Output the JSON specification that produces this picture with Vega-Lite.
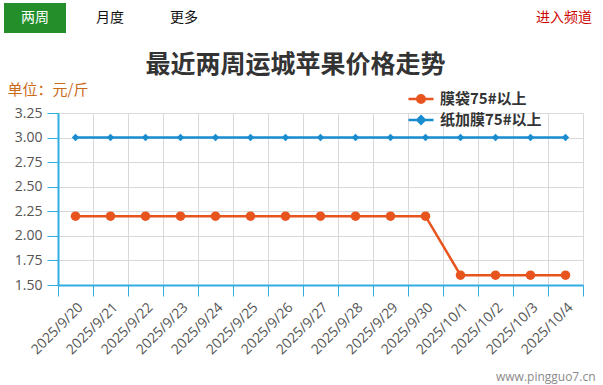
{
  "$schema": "https://vega.github.io/schema/vega-lite/v6.json",
  "autosize": {"type": "none"},
  "width": 525,
  "height": 172,
  "padding": {"left": 58, "top": 113, "right": 20, "bottom": 100},
  "background": "white",
  "title": {
    "text": "最近两周运城苹果价格走势",
    "font": "Noto Sans CJK SC",
    "fontSize": 25,
    "fontWeight": "bold",
    "color": "#333333",
    "anchor": "middle",
    "baseline": "bottom",
    "dx": -25,
    "offset": -100
  },
  "config": {
    "view": {"stroke": null},
    "font": "Open Sans"
  },
  "data": {
    "values": [
      {"date": "2025/9/20", "series": "膜袋75#以上", "price": 2.2},
      {"date": "2025/9/21", "series": "膜袋75#以上", "price": 2.2},
      {"date": "2025/9/22", "series": "膜袋75#以上", "price": 2.2},
      {"date": "2025/9/23", "series": "膜袋75#以上", "price": 2.2},
      {"date": "2025/9/24", "series": "膜袋75#以上", "price": 2.2},
      {"date": "2025/9/25", "series": "膜袋75#以上", "price": 2.2},
      {"date": "2025/9/26", "series": "膜袋75#以上", "price": 2.2},
      {"date": "2025/9/27", "series": "膜袋75#以上", "price": 2.2},
      {"date": "2025/9/28", "series": "膜袋75#以上", "price": 2.2},
      {"date": "2025/9/29", "series": "膜袋75#以上", "price": 2.2},
      {"date": "2025/9/30", "series": "膜袋75#以上", "price": 2.2},
      {"date": "2025/10/1", "series": "膜袋75#以上", "price": 1.6},
      {"date": "2025/10/2", "series": "膜袋75#以上", "price": 1.6},
      {"date": "2025/10/3", "series": "膜袋75#以上", "price": 1.6},
      {"date": "2025/10/4", "series": "膜袋75#以上", "price": 1.6},
      {"date": "2025/9/20", "series": "纸加膜75#以上", "price": 3.0},
      {"date": "2025/9/21", "series": "纸加膜75#以上", "price": 3.0},
      {"date": "2025/9/22", "series": "纸加膜75#以上", "price": 3.0},
      {"date": "2025/9/23", "series": "纸加膜75#以上", "price": 3.0},
      {"date": "2025/9/24", "series": "纸加膜75#以上", "price": 3.0},
      {"date": "2025/9/25", "series": "纸加膜75#以上", "price": 3.0},
      {"date": "2025/9/26", "series": "纸加膜75#以上", "price": 3.0},
      {"date": "2025/9/27", "series": "纸加膜75#以上", "price": 3.0},
      {"date": "2025/9/28", "series": "纸加膜75#以上", "price": 3.0},
      {"date": "2025/9/29", "series": "纸加膜75#以上", "price": 3.0},
      {"date": "2025/9/30", "series": "纸加膜75#以上", "price": 3.0},
      {"date": "2025/10/1", "series": "纸加膜75#以上", "price": 3.0},
      {"date": "2025/10/2", "series": "纸加膜75#以上", "price": 3.0},
      {"date": "2025/10/3", "series": "纸加膜75#以上", "price": 3.0},
      {"date": "2025/10/4", "series": "纸加膜75#以上", "price": 3.0}
    ]
  },
  "encoding": {
    "x": {
      "field": "date", "type": "nominal", "sort": null,
      "scale": {"paddingInner": 0, "paddingOuter": 0},
      "axis": {
        "title": "www.pingguo7.cn",
        "titleFont": "Open Sans", "titleFontSize": 12, "titleFontWeight": "normal", "titleColor": "#8a8a8a",
        "titleAnchor": null, "titleAlign": "right", "titleBaseline": "middle", "titleX": 537, "titleY": 91, "titleAngle": 0,
        "labelAngle": -45, "labelFontSize": 14, "labelColor": "#555555", "labelPadding": 4, "labelOverlap": false,
        "tickBand": "extent", "tickSize": 11, "tickColor": "#2eaee3", "domainColor": "#2eaee3", "domainWidth": 2,
        "grid": true, "gridColor": "#d9d9d9", "gridWidth": 1
      }
    },
    "y": {
      "field": "price", "type": "quantitative",
      "scale": {"domain": [1.5, 3.25], "nice": false, "zero": false},
      "axis": {
        "values": [1.5, 1.75, 2.0, 2.25, 2.5, 2.75, 3.0, 3.25], "format": ".2f", "labelOverlap": false,
        "title": "单位：元/斤",
        "titleFont": "Noto Sans CJK SC", "titleFontSize": 15, "titleFontWeight": "normal", "titleColor": "#cc6a1a",
        "titleAngle": 0, "titleAnchor": null, "titleAlign": "left", "titleBaseline": "middle", "titleX": -51, "titleY": -24,
        "labelFontSize": 14, "labelColor": "#555555", "labelPadding": 5,
        "tickSize": 11, "tickColor": "#2eaee3", "domainColor": "#2eaee3", "domainWidth": 2,
        "grid": true, "gridColor": "#d9d9d9", "gridWidth": 1
      }
    }
  },
  "layer": [
    {
      "mark": {"type": "line", "strokeWidth": 2.5},
      "encoding": {
        "color": {
          "field": "series", "type": "nominal",
          "scale": {"domain": ["膜袋75#以上", "纸加膜75#以上"], "range": ["#e8541e", "#1a8dcf"]},
          "legend": {
            "orient": "none", "legendX": 354, "legendY": -23, "title": null, "direction": "vertical",
            "labelFont": "Noto Sans CJK SC", "labelFontSize": 15, "labelFontWeight": "bold", "labelColor": "#333333",
            "labelOffset": 10, "rowPadding": 3, "symbolSize": 225, "symbolStrokeWidth": 2.5,
            "encode": {
              "symbols": {
                "update": {
                  "shape": {"signal": "datum.value === '膜袋75#以上' ? 'M-1.67,0L1.67,0M-0.5,0A0.5,0.5,0,1,0,0.5,0A0.5,0.5,0,1,0,-0.5,0Z' : 'M-1.67,0L1.67,0M0,-0.5L0.5,0L0,0.5L-0.5,0Z'"},
                  "fill": {"scale": "color", "field": "value"},
                  "stroke": {"scale": "color", "field": "value"},
                  "strokeWidth": {"value": 2.5},
                  "fillOpacity": {"value": 1},
                  "strokeOpacity": {"value": 1}
                }
              }
            }
          }
        }
      }
    },
    {
      "transform": [{"filter": "datum.series === '膜袋75#以上'"}],
      "mark": {"type": "point", "shape": "circle", "filled": true, "opacity": 1, "size": 90},
      "encoding": {
        "color": {"field": "series", "type": "nominal", "legend": null}
      }
    },
    {
      "transform": [{"filter": "datum.series === '纸加膜75#以上'"}],
      "mark": {"type": "point", "shape": "diamond", "filled": true, "opacity": 1, "size": 55},
      "encoding": {
        "color": {"field": "series", "type": "nominal", "legend": null}
      }
    },
    {
      "data": {"values": [{"item": "nav"}]},
      "mark": {"type": "rect", "color": "#238e2a", "clip": false},
      "encoding": {"x": {"value": -54}, "x2": {"value": 8}, "y": {"value": -110}, "y2": {"value": -80}}
    },
    {
      "data": {"values": [
        {"label": "两周", "c": "#ffffff", "px": -23},
        {"label": "月度", "c": "#111111", "px": 52},
        {"label": "更多", "c": "#111111", "px": 126},
        {"label": "进入频道", "c": "#cc0000", "px": 506}
      ]},
      "mark": {"type": "text", "font": "Noto Sans CJK SC", "fontSize": 14, "align": "center", "baseline": "middle", "clip": false},
      "encoding": {
        "text": {"field": "label"},
        "x": {"field": "px", "type": "quantitative", "scale": null},
        "y": {"value": -95},
        "color": {"field": "c", "type": "nominal", "scale": null}
      }
    }
  ]
}
